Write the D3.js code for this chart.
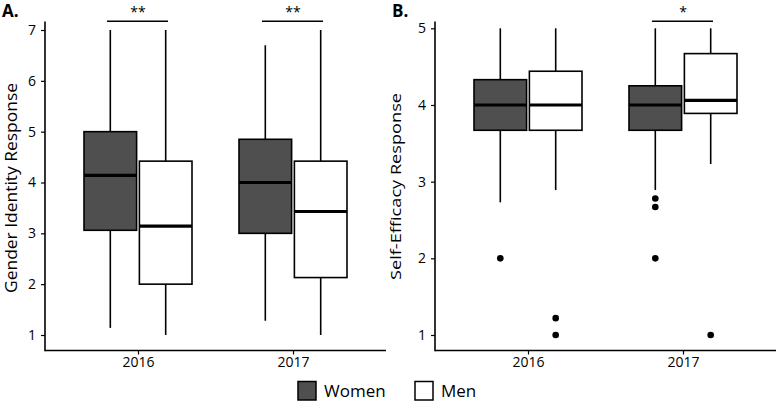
<!DOCTYPE html>
<html>
<head>
<meta charset="utf-8">
<script src="https://cdn.jsdelivr.net/npm/d3@7"></script>
<style>
  html, body { margin: 0; padding: 0; background: #fff; }
  svg { display: block; }
  text { font-family: "Open Sans", "Lato", sans-serif; fill: #000; }
</style>
</head>
<body>
<svg id="chart" width="780" height="403"></svg>
<script>
// ---------------- data ----------------
const years = ["2016", "2017"];
const groups = ["Women", "Men"];
const groupFill = ["#4f4f4f", "#ffffff"];

// Panel A: Gender Identity Response (order: Women2016, Men2016, Women2017, Men2017)
const giYear   = ["2016", "2016", "2017", "2017"];
const giGroup  = ["Women", "Men", "Women", "Men"];
const giLow    = [1.14, 1.0, 1.28, 1.0];
const giQ1     = [3.06, 2.0, 3.0, 2.13];
const giMedian = [4.14, 3.14, 4.0, 3.43];
const giQ3     = [5.0, 4.42, 4.85, 4.42];
const giHigh   = [7.0, 7.0, 6.7, 7.0];
const giTicks = [1, 2, 3, 4, 5, 6, 7];
const giSig = [{ year: "2016", label: "**" }, { year: "2017", label: "**" }];

// Panel B: Self-Efficacy Response
const seYear   = ["2016", "2016", "2017", "2017"];
const seGroup  = ["Women", "Men", "Women", "Men"];
const seLow    = [2.73, 2.89, 2.89, 3.23];
const seQ1     = [3.67, 3.67, 3.67, 3.89];
const seMedian = [4.0, 4.0, 4.0, 4.06];
const seQ3     = [4.33, 4.44, 4.25, 4.67];
const seHigh   = [5.0, 5.0, 5.0, 5.0];
const seOutYear  = ["2016", "2016", "2016", "2017", "2017", "2017", "2017"];
const seOutGroup = ["Women", "Men", "Men", "Women", "Women", "Women", "Men"];
const seOutValue = [2.0, 1.22, 1.0, 2.78, 2.67, 2.0, 1.0];
const seTicks = [1, 2, 3, 4, 5];
const seSig = [{ year: "2017", label: "*" }];

// ---------------- drawing ----------------
const svg = d3.select("#chart");

function panel(opts) {
  const g = svg.append("g");
  const xp = d3.scalePoint().domain(years).range([opts.x0, opts.x1]).padding(0.6);
  const xg = d3.scaleBand().domain(groups).range([-54, 54]).paddingInner(0.05);
  const y = d3.scaleLinear().domain(opts.yDomain).range(opts.yRange);

  // axes
  const yAxis = d3.axisLeft(y).tickValues(opts.ticks).tickSize(4).tickPadding(5).tickFormat(d3.format("d"));
  const ya = g.append("g").attr("transform", `translate(${opts.x0},0)`).call(yAxis);
  ya.select(".domain").remove();
  ya.selectAll(".tick line").attr("stroke", "#000").attr("stroke-width", 1.2);
  ya.selectAll(".tick text").attr("font-size", 14).attr("fill", "#000");
  g.append("line").attr("x1", opts.x0).attr("x2", opts.x0).attr("y1", opts.top).attr("y2", opts.bottom + 0.8)
    .attr("stroke", "#000").attr("stroke-width", 1.6);
  g.append("line").attr("x1", opts.x0).attr("x2", opts.x1).attr("y1", opts.bottom).attr("y2", opts.bottom)
    .attr("stroke", "#000").attr("stroke-width", 1.6);

  const xAxis = d3.axisBottom(xp).tickSize(4).tickPadding(3);
  const xa = g.append("g").attr("transform", `translate(0,${opts.bottom})`).call(xAxis);
  xa.select(".domain").remove();
  xa.selectAll(".tick line").attr("stroke", "#000").attr("stroke-width", 1.2);
  xa.selectAll(".tick text").attr("font-size", 14).attr("fill", "#000");

  // y title, fitted to the reference length
  const t = g.append("text")
    .attr("transform", `translate(${opts.titleX},${opts.titleY}) rotate(-90)`)
    .attr("text-anchor", "middle").attr("font-size", opts.titleSize).text(opts.title);
  t.attr("textLength", opts.titleLen).attr("lengthAdjust", "spacingAndGlyphs");

  // panel label
  g.append("text").attr("x", opts.x0 - 43).attr("y", 17).attr("font-size", 17).attr("font-weight", "bold").text(opts.tag);

  // boxes
  const n = opts.low.length;
  for (let i = 0; i < n; i++) {
    const left = xp(opts.yr[i]) + xg(opts.grp[i]);
    const cx = left + xg.bandwidth() / 2;
    const fill = groupFill[groups.indexOf(opts.grp[i])];
    g.append("line").attr("x1", cx).attr("x2", cx).attr("y1", y(opts.high[i])).attr("y2", y(opts.q3[i]))
      .attr("stroke", "#000").attr("stroke-width", 1.6);
    g.append("line").attr("x1", cx).attr("x2", cx).attr("y1", y(opts.q1[i])).attr("y2", y(opts.low[i]))
      .attr("stroke", "#000").attr("stroke-width", 1.6);
    g.append("rect").attr("x", left).attr("y", y(opts.q3[i])).attr("width", xg.bandwidth())
      .attr("height", y(opts.q1[i]) - y(opts.q3[i]))
      .attr("fill", fill).attr("stroke", "#000").attr("stroke-width", 1.6);
    g.append("line").attr("x1", left).attr("x2", left + xg.bandwidth()).attr("y1", y(opts.med[i])).attr("y2", y(opts.med[i]))
      .attr("stroke", "#000").attr("stroke-width", 3.2);
  }
  // outliers
  for (let i = 0; i < opts.outV.length; i++) {
    const cx = xp(opts.outY[i]) + xg(opts.outG[i]) + xg.bandwidth() / 2;
    g.append("circle").attr("cx", cx).attr("cy", y(opts.outV[i])).attr("r", 3.3).attr("fill", "#000");
  }
  // significance
  opts.sig.forEach(s => {
    const c = xp(s.year);
    g.append("line").attr("x1", c - 31).attr("x2", c + 30).attr("y1", 21.3).attr("y2", 21.3)
      .attr("stroke", "#000").attr("stroke-width", 1.4);
    g.append("text").attr("x", c).attr("y", 17).attr("text-anchor", "middle").attr("font-size", 14).text(s.label);
  });
}

panel({
  x0: 45, x1: 386, top: 21.5, bottom: 350.5,
  yDomain: [1, 7], yRange: [335, 30], ticks: giTicks,
  low: giLow, q1: giQ1, med: giMedian, q3: giQ3, high: giHigh, yr: giYear, grp: giGroup,
  outV: [], outY: [], outG: [],
  sig: giSig, title: "Gender Identity Response", tag: "A.",
  titleX: 17, titleY: 188, titleSize: 15.5, titleLen: 210
});
panel({
  x0: 435, x1: 776, top: 21.5, bottom: 350.5,
  yDomain: [1, 5], yRange: [335, 28.3], ticks: seTicks,
  low: seLow, q1: seQ1, med: seMedian, q3: seQ3, high: seHigh, yr: seYear, grp: seGroup,
  outV: seOutValue, outY: seOutYear, outG: seOutGroup,
  sig: seSig, title: "Self-Efficacy Response", tag: "B.",
  titleX: 401, titleY: 186.5, titleSize: 15, titleLen: 187
});

// legend
const legend = svg.append("g");
const legX = [298, 415];
groups.forEach((gname, i) => {
  legend.append("rect").attr("x", legX[i]).attr("y", 381.5).attr("width", 18).attr("height", 18.5)
    .attr("fill", groupFill[i]).attr("stroke", "#000").attr("stroke-width", 1.5);
  legend.append("text").attr("x", legX[i] + 26).attr("y", 397).attr("font-size", 17).text(gname);
});
</script>
</body>
</html>
